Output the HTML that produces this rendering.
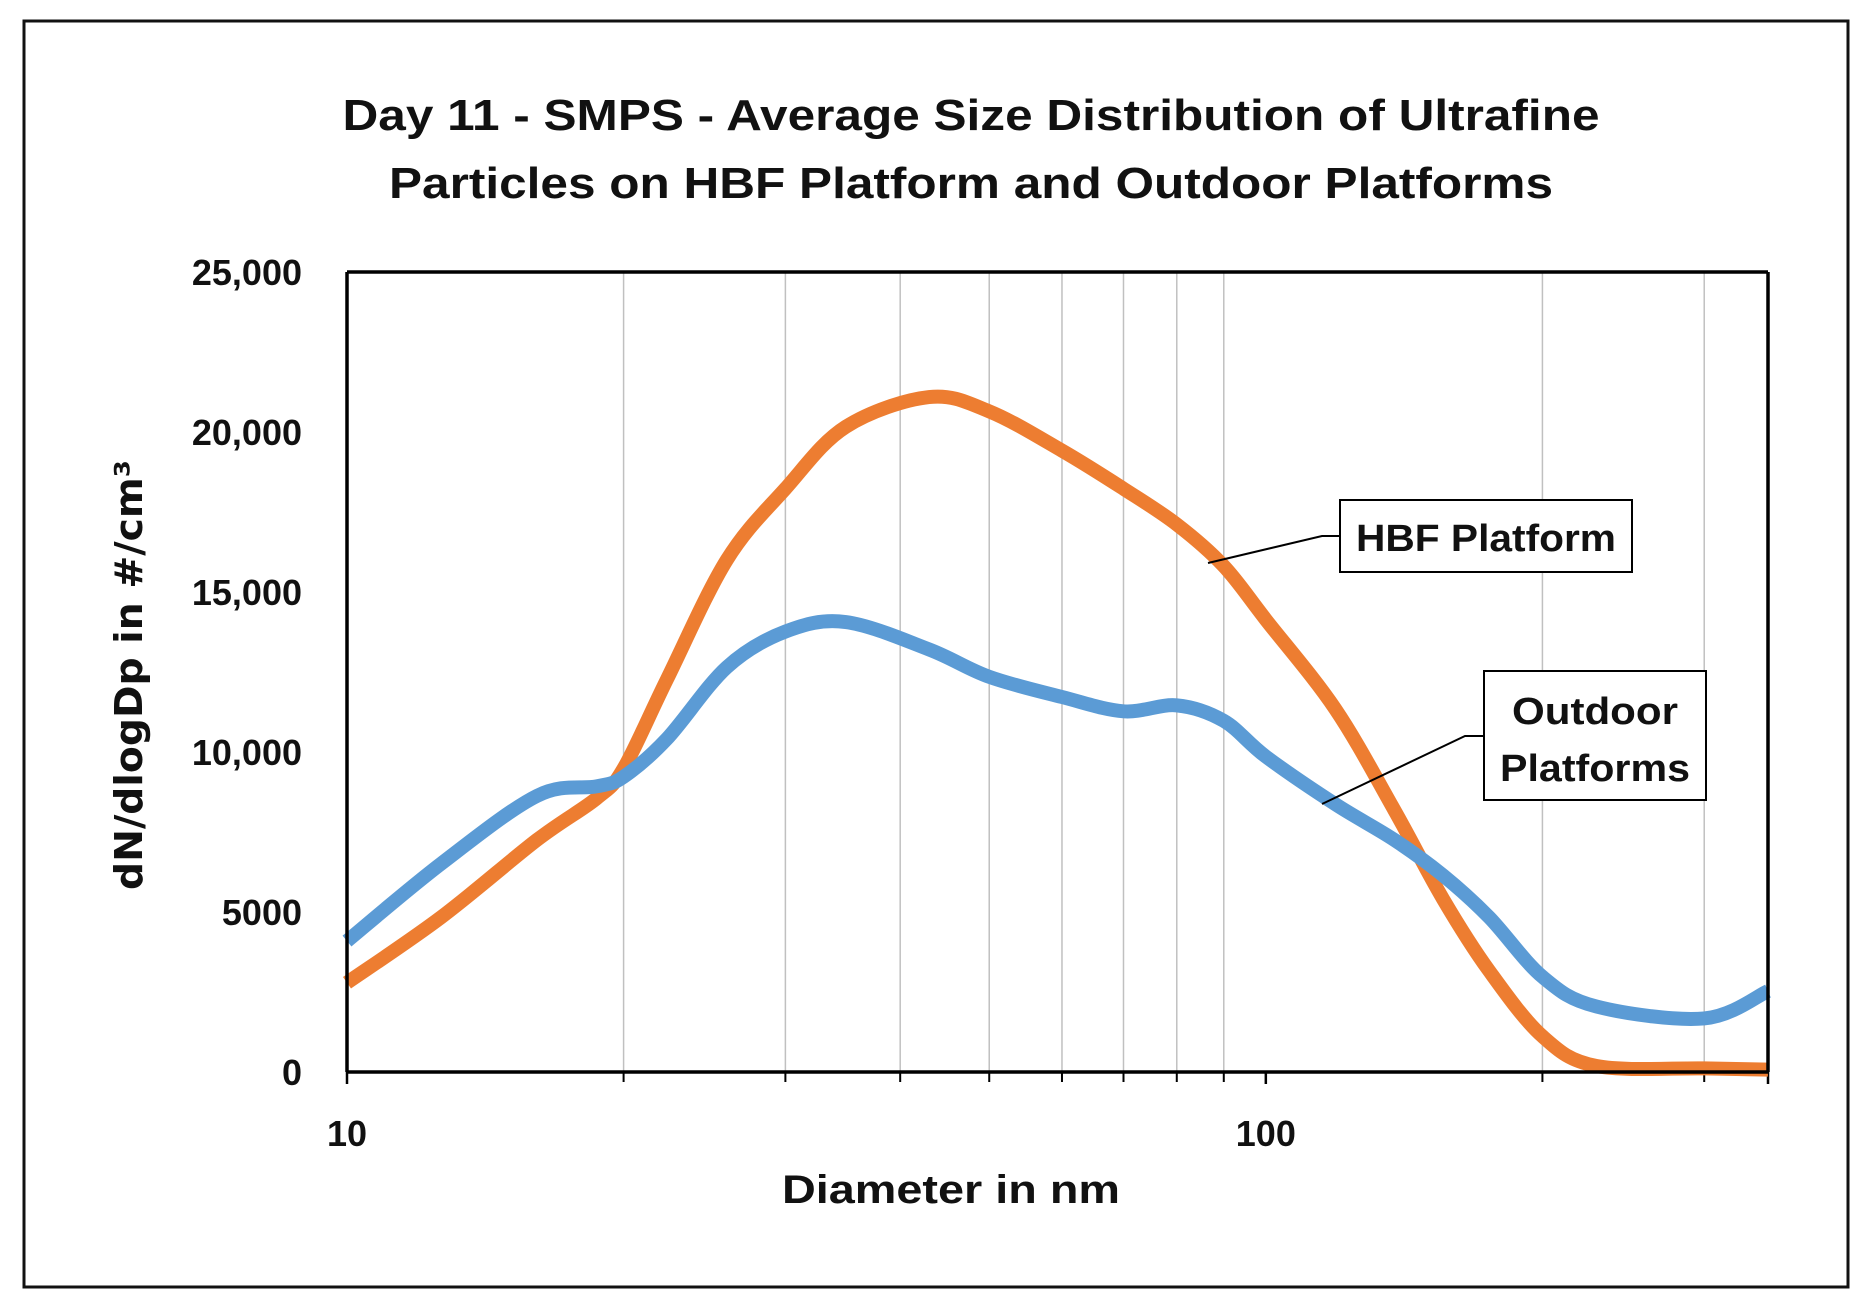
<!DOCTYPE html>
<html><head><meta charset="utf-8"><style>
html,body{margin:0;padding:0;background:#fff}
svg text{font-family:"Liberation Sans",sans-serif;font-weight:bold;fill:#111}
</style></head><body>
<svg id="chart" width="1868" height="1311" viewBox="0 0 1868 1311" xmlns="http://www.w3.org/2000/svg">
<rect x="24" y="21" width="1824" height="1266" fill="#fff" stroke="#111" stroke-width="3"/>
<text x="971" y="130" text-anchor="middle" font-size="44" textLength="1257" lengthAdjust="spacingAndGlyphs">Day 11 - SMPS - Average Size Distribution of Ultrafine</text>
<text x="971" y="198" text-anchor="middle" font-size="44" textLength="1164" lengthAdjust="spacingAndGlyphs">Particles on HBF Platform and Outdoor Platforms</text>
<g id="grid"></g>
<g id="ticks"></g>
<g id="series"></g>
<line x1="347" y1="272" x2="347" y2="1072" stroke="#000" stroke-width="3.5"/>
<line x1="347" y1="1072" x2="1768" y2="1072" stroke="#000" stroke-width="3.5"/>
<line x1="347" y1="272" x2="1768" y2="272" stroke="#000" stroke-width="3.5"/>
<line x1="1768" y1="272" x2="1768" y2="1072" stroke="#000" stroke-width="3.5"/>
<text x="951" y="1203" text-anchor="middle" font-size="40" textLength="338" lengthAdjust="spacingAndGlyphs">Diameter in nm</text>
<text transform="translate(142,675) rotate(-90)" text-anchor="middle" font-size="38" style="font-family:'DejaVu Sans',sans-serif" textLength="430" lengthAdjust="spacingAndGlyphs">dN/dlogDp in #/cm³</text>
<g>
<polyline points="1208,563 1322,536 1340,536" fill="none" stroke="#000" stroke-width="2"/>
<rect x="1340" y="500" width="292" height="72" fill="#fff" stroke="#000" stroke-width="2"/>
<text x="1486" y="551" text-anchor="middle" font-size="38" textLength="260" lengthAdjust="spacingAndGlyphs">HBF Platform</text>
</g>
<g>
<polyline points="1322,804 1465,736 1484,736" fill="none" stroke="#000" stroke-width="2"/>
<rect x="1484" y="671" width="222" height="129" fill="#fff" stroke="#000" stroke-width="2"/>
<text x="1595" y="724" text-anchor="middle" font-size="38" textLength="166" lengthAdjust="spacingAndGlyphs">Outdoor</text>
<text x="1595" y="781" text-anchor="middle" font-size="38" textLength="190" lengthAdjust="spacingAndGlyphs">Platforms</text>
</g>
</svg>
<script>
const diameters=[10,12.66,16.1,18.7,20,22.3,25.9,30,34.9,43,50,60,70,80,90,100,119,138,156,175,200,229,300,352];
const hbfValues=[2790,4836,7254,8556,9486,12276,16000,18228,20162,21092,20646,19418,18228,17112,15810,14136,11346,8184,5394,3162,1116,186,112,74];
const outdoorValues=[4092,6510,8630,8928,9226,10416,12648,13764,14062,13206,12350,11718,11272,11458,10974,9858,8370,7254,6138,4836,2976,2046,1674,2530];
const yTicks=[0,5000,10000,15000,20000,25000];
const yTickLabels=["0","5000","10,000","15,000","20,000","25,000"];
const xGrid=[20,30,40,50,60,70,80,90,200,300];
const xLabels=[10,100];

const NS="http://www.w3.org/2000/svg";
const L=347,R=1768,T=272,B=1072,XMIN=10,XMAX=352;
function xs(d){return L+(Math.log10(d)-Math.log10(XMIN))/(Math.log10(XMAX)-Math.log10(XMIN))*(R-L);}
function ys(v){return B-v/25000*(B-T);}
function mk(tag,attrs,parent){const e=document.createElementNS(NS,tag);for(const k in attrs)e.setAttribute(k,attrs[k]);parent.appendChild(e);return e;}
const grid=document.getElementById('grid'),ticks=document.getElementById('ticks'),series=document.getElementById('series');
xGrid.forEach(d=>{
  const g=mk('line',{x1:xs(d),x2:xs(d),y1:T,y2:B,stroke:'#c0c0c0','stroke-width':1.5},grid);
  
  
  const t=mk('line',{x1:xs(d),x2:xs(d),y1:B,y2:B+10,stroke:'#000','stroke-width':2},ticks);
  
  
});
[10,100,352].forEach(d=>{
  const t=mk('line',{x1:xs(d),x2:xs(d),y1:B,y2:B+12,stroke:'#000','stroke-width':2.5},ticks);
  
  
});
xLabels.forEach(d=>{
  const t=mk('text',{x:xs(d),y:B+74,'text-anchor':'middle','font-size':36},ticks);
  t.textContent=String(d);
  
  
});
yTicks.forEach((v,i)=>{
  const t=mk('text',{x:302,y:ys(v)+13,'text-anchor':'end','font-size':36},ticks);
  t.textContent=yTickLabels[i];
  
  
});
function path(vals){
  const p=diameters.map((d,i)=>[xs(d),ys(vals[i])]);
  let s='M'+p[0][0]+','+p[0][1];
  for(let i=0;i<p.length-1;i++){
    const p0=p[i-1]||p[i],p1=p[i],p2=p[i+1],p3=p[i+2]||p2;
    const c1=[p1[0]+(p2[0]-p0[0])/6,p1[1]+(p2[1]-p0[1])/6];
    const c2=[p2[0]-(p3[0]-p1[0])/6,p2[1]-(p3[1]-p1[1])/6];
    s+=' C'+c1+' '+c2+' '+p2;
  }
  return s;
}
const hbf=mk('path',{d:path(hbfValues),fill:'none',stroke:'#ED7D31','stroke-width':14,'stroke-linejoin':'round'},series);


const out=mk('path',{d:path(outdoorValues),fill:'none',stroke:'#5B9BD5','stroke-width':14,'stroke-linejoin':'round'},series);


</script>
</body></html>
